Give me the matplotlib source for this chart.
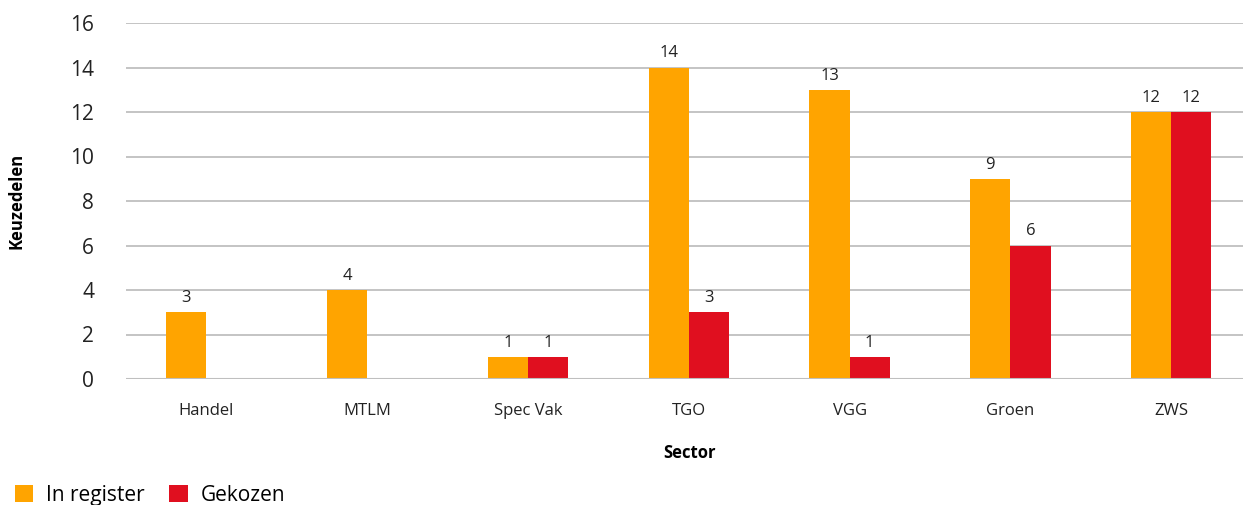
import matplotlib.pyplot as plt
import numpy as np

sectors = ["Handel", "MTLM", "Spec Vak", "TGO", "VGG", "Groen", "ZWS"]
in_register = [3, 4, 1, 14, 13, 9, 12]
gekozen = [np.nan, np.nan, 1, 3, 1, 6, 12]

orange = "#FFA400"
red = "#E00F1F"
plt.rcParams["font.family"] = ["Open Sans", "DejaVu Sans"]

fig = plt.figure(figsize=(12.43, 5.05), dpi=100)
ax = fig.add_axes([126 / 1243, 126 / 505, 1125.6 / 1243, 356 / 505])

x = np.arange(len(sectors))
w = 0.25
b1 = ax.bar(x - w / 2, in_register, w, color=orange, label="In register", zorder=3)
b2 = ax.bar(x + w / 2, gekozen, w, color=red, label="Gekozen", zorder=3)

for bars, vals in ((b1, in_register), (b2, gekozen)):
    for rect, v in zip(bars, vals):
        if np.isnan(v):
            continue
        ax.text(rect.get_x() + rect.get_width() / 2, v + 0.28, f"{int(v)}",
                ha="center", va="bottom", fontsize=12, color="#222222")

ax.set_xlim(-0.5, len(sectors) - 0.5)
ax.set_ylim(0, 16)
ax.set_yticks(range(0, 17, 2))
ax.set_xticks(x)
ax.set_xticklabels(sectors, fontsize=12, color="#222222")
ax.tick_params(axis="y", labelsize=15, colors="#222222", length=0, pad=23)
ax.tick_params(axis="x", length=0, pad=17)
ax.grid(axis="y", color="#BFBFBF", lw=1.3, zorder=0)
for s in ax.spines.values():
    s.set_visible(False)
ax.axhline(0, color="#BFBFBF", lw=1.5, zorder=4)

ax.set_ylabel("Keuzedelen", fontsize=12, fontweight="bold")
ax.yaxis.set_label_coords(-100 / 1125.6, 0.5)
ax.set_xlabel("Sector", fontsize=12, fontweight="bold")
ax.xaxis.set_label_coords((690 - 126) / 1125.6, -(444 - 379) / 356)

fig.legend(loc="lower left", bbox_to_anchor=(0.0, -0.03), ncol=2, frameon=False,
           fontsize=15, handlelength=0.9, handleheight=0.9, handletextpad=0.6,
           columnspacing=1.2, borderaxespad=0.3)

fig.savefig("out.png", dpi=100)
